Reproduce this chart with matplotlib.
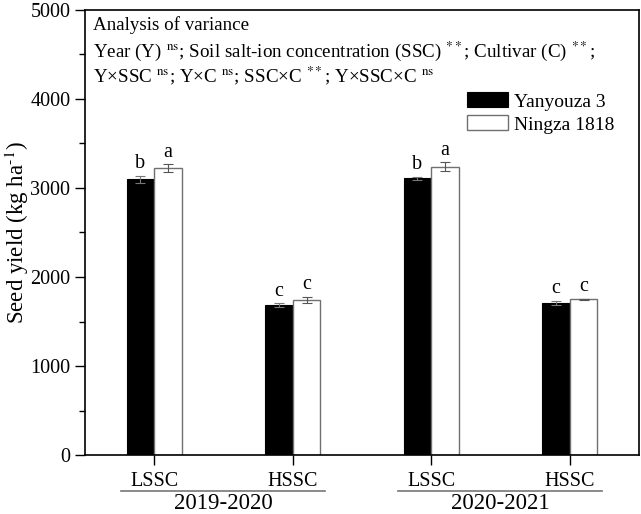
import matplotlib
matplotlib.use("Agg")
import matplotlib.pyplot as plt
import matplotlib.transforms as mtransforms
from matplotlib.ticker import MultipleLocator
import numpy as np

plt.rcParams['font.family'] = ['Liberation Serif', 'DejaVu Serif']
plt.rcParams['mathtext.fontset'] = 'stix'

treatments = ["LSSC", "HSSC", "LSSC", "HSSC"]
years = ["2019-2020", "2020-2021"]
cultivars = ["Yanyouza 3", "Ningza 1818"]
yanyouza = [3100, 1685, 3110, 1710]
yanyouza_err = [40, 20, 15, 25]
ningza = [3220, 1740, 3240, 1748]
ningza_err = [45, 35, 50, 10]
letters_y = ["b", "c", "b", "c"]
letters_n = ["a", "c", "a", "c"]

fig = plt.figure(figsize=(6.41, 5.14), dpi=100)
ax = fig.add_axes([85/641, 1-455/514, (639-85)/641, (455-10)/514])

x = np.arange(len(treatments))
w = 0.2
ax.bar(x - w/2, yanyouza, w, color='black', edgecolor='black', linewidth=0.8,
       yerr=yanyouza_err, error_kw=dict(ecolor='#777777', elinewidth=0.8, capsize=3.5, capthick=0.8),
       label=cultivars[0])
ax.bar(x + w/2, ningza, w, color='white', edgecolor='#707070', linewidth=1.0,
       yerr=ningza_err, error_kw=dict(ecolor='#555555', elinewidth=0.8, capsize=3.5, capthick=0.8),
       label=cultivars[1])

for i in range(len(x)):
    ax.text(x[i] - w/2, yanyouza[i] + yanyouza_err[i] + 30, letters_y[i],
            ha='center', va='bottom', fontsize=14.5)
    ax.text(x[i] + w/2, ningza[i] + ningza_err[i] + 30, letters_n[i],
            ha='center', va='bottom', fontsize=14.5)

ax.set_xlim(-0.5, 3.5)
ax.set_ylim(0, 5000)
ax.yaxis.set_major_locator(MultipleLocator(1000))
ax.yaxis.set_minor_locator(MultipleLocator(500))
ax.set_xticks(x)
ax.set_xticklabels(treatments, fontsize=14.5)
ax.tick_params(axis='both', direction='out', length=7, width=1, labelsize=14.5)
ax.tick_params(axis='y', which='minor', direction='out', length=4, width=1)
ax.tick_params(axis='x', pad=5)
for s in ax.spines.values():
    s.set_linewidth(1.2)
ax.set_ylabel("Seed yield (kg ha$^{\\text{-1}}$)", fontsize=16.5)
ax.yaxis.set_label_coords((31 - 85) / 554, 0.5)

# year group labels
trans = mtransforms.blended_transform_factory(ax.transData, ax.transAxes)
for gi, yr in enumerate(years):
    c = 2*gi + 0.5
    ax.plot([c - 0.74, c + 0.73], [-0.081, -0.081], color='#777777', lw=1.2,
            transform=trans, clip_on=False)
    ax.text(c, -0.108, yr, transform=trans, ha='center', va='center', fontsize=16.5)

# ANOVA text
ax.text(0.015, 0.967, "Analysis of variance", transform=ax.transAxes,
        ha='left', va='center', fontsize=13.7)
ax.text(0.015, 0.908,
        "Year (Y) $^{\\mathrm{ns}}$; Soil salt-ion concentration (SSC) $^{**}$; Cultivar (C) $^{**}$;",
        transform=ax.transAxes, ha='left', va='center', fontsize=13.7)
ax.text(0.015, 0.852,
        "Y×SSC $^{\\mathrm{ns}}$; Y×C $^{\\mathrm{ns}}$; SSC×C $^{**}$; Y×SSC×C $^{\\mathrm{ns}}$",
        transform=ax.transAxes, ha='left', va='center', fontsize=13.7)

leg = ax.legend(loc='upper left', bbox_to_anchor=(0.69, 0.815), frameon=False,
                fontsize=14, handlelength=2.1, handleheight=0.8,
                handletextpad=0.3, labelspacing=0.25, borderaxespad=0, borderpad=0)

fig.savefig("out.png", dpi=100)
